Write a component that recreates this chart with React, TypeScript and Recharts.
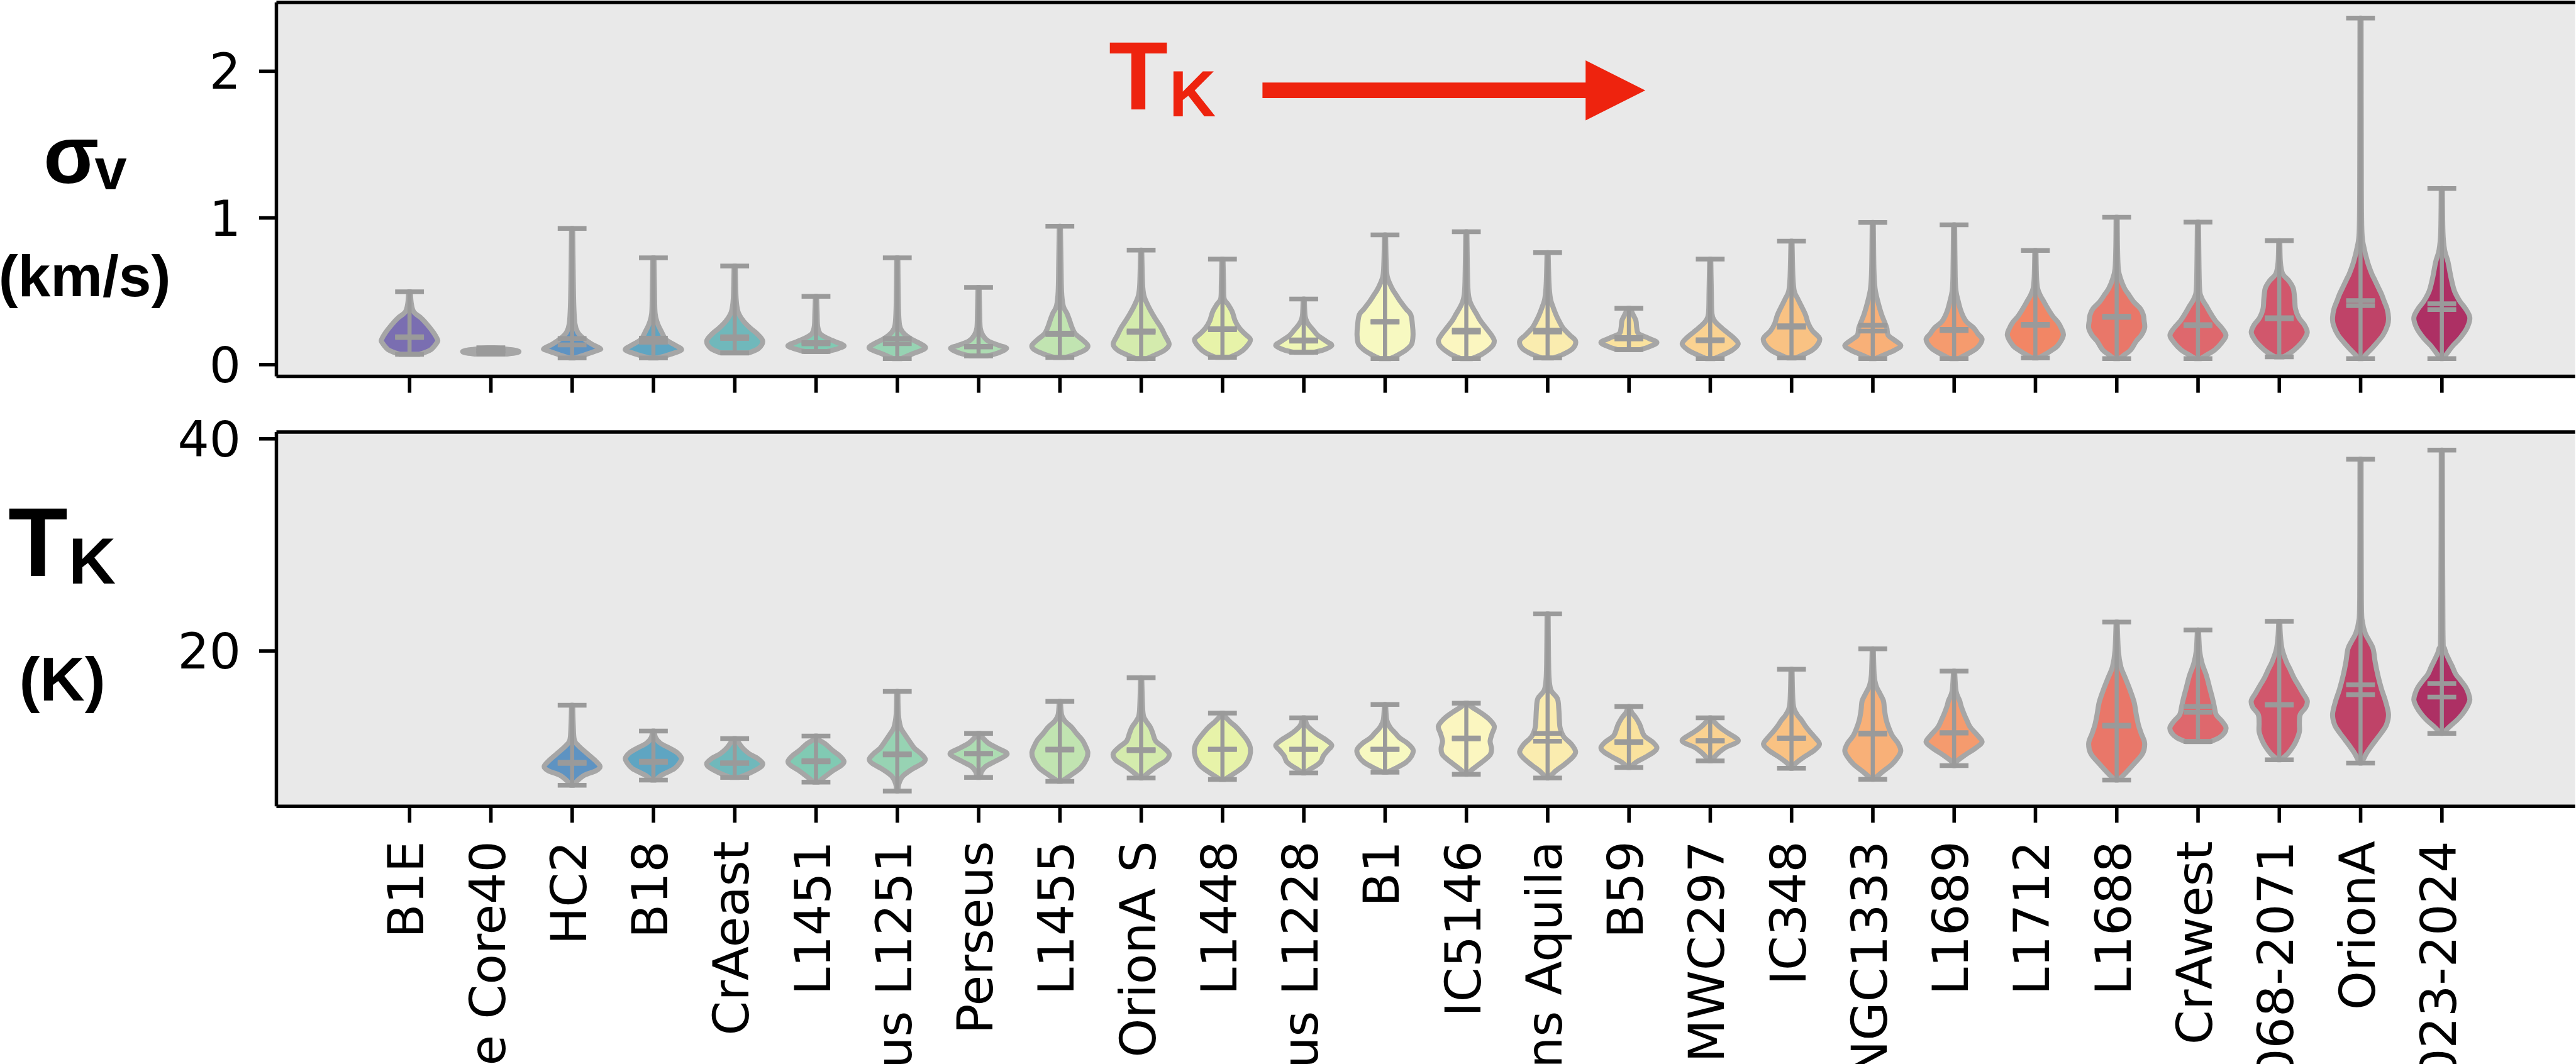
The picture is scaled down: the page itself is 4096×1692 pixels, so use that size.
import React from "react";
import { ComposedChart, Bar, XAxis, YAxis, CartesianGrid, ReferenceLine } from "recharts";

const REGIONS = [
  "B1E", "Pipe Core40", "HC2", "B18", "CrAeast", "L1451", "Cepheus L1251", "Perseus", "L1455",
  "OrionA S", "L1448", "Cepheus L1228", "B1", "IC5146", "Serpens Aquila", "B59", "Serpens MWC297",
  "IC348", "NGC1333", "L1689", "L1712", "L1688", "CrAwest", "OrionB NGC2068-2071", "OrionA",
  "OrionB NGC2023-2024",
];

// velocity dispersion (km/s) per region
const SIGMA_MIN = [0.07, 0.072, 0.045, 0.045, 0.08, 0.089, 0.041, 0.059, 0.048, 0.041, 0.05, 0.084, 0.041, 0.041, 0.045, 0.102, 0.041, 0.045, 0.041, 0.041, 0.045, 0.041, 0.041, 0.053, 0.041, 0.041];
const SIGMA_MAX = [0.497, 0.115, 0.928, 0.728, 0.672, 0.465, 0.728, 0.527, 0.944, 0.781, 0.719, 0.447, 0.885, 0.906, 0.763, 0.384, 0.72, 0.842, 0.969, 0.953, 0.778, 1.005, 0.971, 0.845, 2.363, 1.201];
const SIGMA_MEAN = [0.19, 0.095, 0.178, 0.18, 0.19, 0.15, 0.178, 0.125, 0.215, 0.23, 0.245, 0.168, 0.295, 0.235, 0.235, 0.185, 0.17, 0.265, 0.268, 0.24, 0.275, 0.33, 0.272, 0.32, 0.436, 0.415];
const SIGMA_MEDIAN = [0.185, 0.092, 0.134, 0.152, 0.178, 0.142, 0.143, 0.12, 0.205, 0.22, 0.238, 0.16, 0.29, 0.222, 0.222, 0.175, 0.162, 0.255, 0.229, 0.232, 0.268, 0.322, 0.265, 0.312, 0.402, 0.375];
// violin outlines: [value, relative half-width]
const SIGMA_SHAPE: number[][][] = [
  [[0.07, 0.35], [0.1, 0.75], [0.15, 0.98], [0.17, 1], [0.22, 0.85], [0.28, 0.6], [0.32, 0.4], [0.36, 0.15], [0.42, 0.06], [0.497, 0.03]],
  [[0.072, 0.55], [0.08, 0.9], [0.09, 1], [0.1, 0.8], [0.108, 0.45], [0.115, 0.12]],
  [[0.045, 0.1], [0.07, 0.5], [0.1, 0.95], [0.11, 1], [0.14, 0.7], [0.18, 0.4], [0.22, 0.2], [0.28, 0.1], [0.4, 0.06], [0.6, 0.04], [0.928, 0.02]],
  [[0.045, 0.15], [0.07, 0.6], [0.1, 1], [0.13, 0.8], [0.17, 0.45], [0.22, 0.3], [0.28, 0.15], [0.35, 0.06], [0.5, 0.04], [0.728, 0.02]],
  [[0.08, 0.5], [0.11, 0.85], [0.16, 1], [0.21, 0.8], [0.25, 0.55], [0.3, 0.3], [0.36, 0.12], [0.45, 0.05], [0.672, 0.02]],
  [[0.089, 0.4], [0.11, 0.8], [0.13, 1], [0.155, 0.7], [0.18, 0.4], [0.21, 0.15], [0.26, 0.06], [0.35, 0.04], [0.465, 0.02]],
  [[0.041, 0.15], [0.07, 0.5], [0.1, 0.9], [0.12, 1], [0.15, 0.75], [0.18, 0.45], [0.22, 0.2], [0.27, 0.08], [0.4, 0.04], [0.728, 0.02]],
  [[0.059, 0.3], [0.08, 0.7], [0.11, 1], [0.13, 0.75], [0.16, 0.35], [0.2, 0.15], [0.25, 0.06], [0.35, 0.04], [0.527, 0.02]],
  [[0.048, 0.2], [0.07, 0.55], [0.1, 0.9], [0.13, 1], [0.17, 0.8], [0.21, 0.55], [0.26, 0.42], [0.3, 0.35], [0.35, 0.25], [0.4, 0.12], [0.5, 0.06], [0.7, 0.04], [0.944, 0.02]],
  [[0.041, 0.2], [0.07, 0.55], [0.1, 0.85], [0.14, 1], [0.2, 0.85], [0.25, 0.72], [0.3, 0.55], [0.34, 0.42], [0.4, 0.25], [0.47, 0.1], [0.55, 0.05], [0.781, 0.02]],
  [[0.05, 0.25], [0.08, 0.6], [0.12, 0.85], [0.17, 1], [0.21, 0.8], [0.25, 0.6], [0.3, 0.45], [0.36, 0.35], [0.41, 0.2], [0.45, 0.06], [0.55, 0.04], [0.719, 0.02]],
  [[0.084, 0.35], [0.1, 0.7], [0.13, 1], [0.16, 0.8], [0.2, 0.5], [0.24, 0.32], [0.28, 0.15], [0.33, 0.05], [0.447, 0.02]],
  [[0.041, 0.2], [0.07, 0.5], [0.1, 0.75], [0.14, 0.95], [0.2, 1], [0.27, 0.98], [0.34, 0.92], [0.38, 0.75], [0.43, 0.55], [0.48, 0.38], [0.52, 0.25], [0.6, 0.08], [0.7, 0.04], [0.885, 0.02]],
  [[0.041, 0.2], [0.07, 0.55], [0.12, 0.9], [0.16, 1], [0.2, 0.9], [0.25, 0.7], [0.3, 0.5], [0.34, 0.38], [0.4, 0.2], [0.45, 0.1], [0.55, 0.05], [0.906, 0.02]],
  [[0.045, 0.2], [0.07, 0.55], [0.11, 0.9], [0.16, 1], [0.2, 0.8], [0.25, 0.55], [0.3, 0.4], [0.34, 0.3], [0.4, 0.18], [0.45, 0.1], [0.55, 0.05], [0.763, 0.02]],
  [[0.102, 0.4], [0.12, 0.7], [0.15, 1], [0.18, 0.7], [0.21, 0.35], [0.25, 0.28], [0.3, 0.25], [0.34, 0.15], [0.384, 0.04]],
  [[0.041, 0.15], [0.07, 0.5], [0.1, 0.8], [0.14, 1], [0.18, 0.85], [0.22, 0.6], [0.26, 0.35], [0.3, 0.15], [0.35, 0.06], [0.5, 0.04], [0.72, 0.02]],
  [[0.045, 0.15], [0.07, 0.45], [0.1, 0.75], [0.14, 0.95], [0.18, 1], [0.23, 0.75], [0.28, 0.6], [0.34, 0.5], [0.4, 0.35], [0.45, 0.22], [0.5, 0.1], [0.6, 0.05], [0.842, 0.02]],
  [[0.041, 0.1], [0.07, 0.45], [0.1, 0.8], [0.13, 1], [0.17, 0.75], [0.2, 0.55], [0.25, 0.5], [0.3, 0.4], [0.35, 0.3], [0.43, 0.18], [0.52, 0.08], [0.65, 0.04], [0.969, 0.02]],
  [[0.041, 0.15], [0.07, 0.45], [0.11, 0.8], [0.17, 1], [0.21, 0.85], [0.25, 0.7], [0.29, 0.45], [0.33, 0.32], [0.38, 0.22], [0.43, 0.15], [0.5, 0.07], [0.6, 0.04], [0.953, 0.02]],
  [[0.045, 0.1], [0.07, 0.35], [0.1, 0.6], [0.13, 0.8], [0.2, 1], [0.25, 0.92], [0.29, 0.8], [0.33, 0.62], [0.38, 0.45], [0.43, 0.3], [0.47, 0.18], [0.52, 0.08], [0.6, 0.04], [0.778, 0.02]],
  [[0.041, 0.1], [0.07, 0.3], [0.1, 0.5], [0.16, 0.7], [0.2, 0.88], [0.25, 1], [0.3, 0.98], [0.34, 0.95], [0.38, 0.85], [0.43, 0.6], [0.48, 0.42], [0.52, 0.28], [0.58, 0.15], [0.65, 0.06], [0.8, 0.03], [1.005, 0.02]],
  [[0.041, 0.1], [0.07, 0.35], [0.1, 0.6], [0.15, 0.85], [0.2, 1], [0.25, 0.85], [0.3, 0.62], [0.35, 0.45], [0.4, 0.3], [0.46, 0.12], [0.55, 0.05], [0.971, 0.02]],
  [[0.053, 0.15], [0.08, 0.4], [0.12, 0.65], [0.17, 0.88], [0.22, 1], [0.27, 0.9], [0.32, 0.7], [0.38, 0.58], [0.45, 0.55], [0.52, 0.5], [0.57, 0.35], [0.62, 0.12], [0.7, 0.04], [0.845, 0.02]],
  [[0.041, 0.08], [0.07, 0.2], [0.12, 0.45], [0.2, 0.8], [0.27, 0.97], [0.32, 1], [0.38, 0.95], [0.43, 0.85], [0.48, 0.75], [0.52, 0.65], [0.58, 0.5], [0.62, 0.4], [0.7, 0.25], [0.8, 0.12], [0.9, 0.05], [1.2, 0.03], [2.363, 0.02]],
  [[0.041, 0.05], [0.08, 0.2], [0.13, 0.4], [0.18, 0.65], [0.25, 0.9], [0.32, 1], [0.38, 0.85], [0.43, 0.65], [0.48, 0.5], [0.52, 0.42], [0.6, 0.32], [0.7, 0.22], [0.78, 0.1], [0.9, 0.04], [1.201, 0.02]],
];

// kinetic temperature (K) per region; null where no map exists
const TK_MIN = [null, null, 7.33, 7.83, 8.07, 7.63, 6.79, 8.07, 7.7, 8.02, 7.88, 8.49, 8.57, 8.37, 8.02, 9.01, 9.63, 8.94, 7.9, 9.19, null, 7.83, 11.46, 9.73, 9.43, 12.23];
const TK_MAX = [null, null, 14.88, 12.45, 11.73, 11.98, 16.19, 12.23, 15.25, 17.48, 14.14, 13.69, 14.95, 15.07, 23.49, 14.76, 13.69, 18.27, 20.2, 18.09, null, 22.72, 21.98, 22.8, 38.07, 38.93];
const TK_MEAN = [null, null, 9.5, 9.6, 9.45, 9.65, 10.3, 10.35, 10.75, 10.7, 10.75, 10.75, 10.75, 11.8, 12.23, 11.45, 11.55, 11.8, 12.25, 12.3, null, 13.0, 14.76, 14.95, 16.81, 16.93];
const TK_MEDIAN = [null, null, 9.4, 9.5, 9.4, 9.55, 10.2, 10.3, 10.65, 10.6, 10.7, 10.7, 10.7, 11.7, 11.49, 11.35, 11.5, 11.75, 12.15, 12.25, null, 12.9, 14.21, 14.9, 15.87, 15.65];
const TK_SHAPE: (number[][] | null)[] = [
  null,
  null,
  [[7.33, 0.05], [7.8, 0.2], [8.3, 0.45], [8.7, 0.85], [9.1, 1], [9.6, 0.85], [10.3, 0.55], [11, 0.25], [11.6, 0.08], [13, 0.04], [14.88, 0.02]],
  [[7.83, 0.08], [8.3, 0.3], [8.9, 0.75], [9.5, 0.95], [9.9, 1], [10.4, 0.85], [10.8, 0.6], [11.3, 0.25], [11.8, 0.08], [12.45, 0.03]],
  [[8.07, 0.15], [8.5, 0.55], [9, 0.9], [9.4, 1], [9.9, 0.8], [10.3, 0.52], [10.8, 0.3], [11.2, 0.18], [11.73, 0.05]],
  [[7.63, 0.08], [8.2, 0.35], [8.7, 0.6], [9.2, 0.9], [9.6, 1], [10.1, 0.85], [10.6, 0.6], [11.2, 0.35], [11.6, 0.12], [11.98, 0.04]],
  [[6.79, 0.02], [7.5, 0.06], [8.2, 0.2], [8.8, 0.5], [9.4, 0.9], [9.8, 1], [10.3, 0.85], [10.8, 0.62], [11.5, 0.43], [12.2, 0.25], [12.8, 0.12], [14, 0.04], [16.19, 0.02]],
  [[8.07, 0.06], [8.6, 0.1], [9.1, 0.25], [9.6, 0.6], [10.1, 0.95], [10.4, 1], [10.8, 0.7], [11.3, 0.35], [11.8, 0.15], [12.23, 0.05]],
  [[7.7, 0.06], [8.3, 0.4], [9, 0.75], [9.8, 0.95], [10.4, 1], [11, 0.92], [11.6, 0.8], [12.2, 0.6], [12.8, 0.42], [13.4, 0.18], [14, 0.06], [15.25, 0.02]],
  [[8.02, 0.05], [8.5, 0.25], [9.1, 0.55], [9.7, 0.9], [10.3, 1], [10.9, 0.8], [11.5, 0.52], [12.2, 0.42], [12.8, 0.33], [13.5, 0.15], [14.3, 0.06], [17.48, 0.02]],
  [[7.88, 0.08], [8.5, 0.45], [9.2, 0.8], [10, 0.97], [10.8, 1], [11.5, 0.9], [12.2, 0.7], [12.8, 0.5], [13.3, 0.28], [13.8, 0.1], [14.14, 0.04]],
  [[8.49, 0.05], [8.8, 0.2], [9.2, 0.45], [9.6, 0.62], [10.1, 0.7], [10.6, 0.85], [11.1, 1], [11.6, 0.8], [12.1, 0.5], [12.5, 0.3], [13, 0.12], [13.69, 0.04]],
  [[8.57, 0.08], [8.9, 0.35], [9.5, 0.75], [10.1, 0.95], [10.7, 1], [11.3, 0.8], [11.8, 0.52], [12.3, 0.35], [12.8, 0.18], [13.5, 0.06], [14.95, 0.02]],
  [[8.37, 0.05], [8.8, 0.2], [9.5, 0.55], [10.2, 0.85], [10.8, 0.9], [11.5, 0.85], [12.2, 0.92], [12.9, 1], [13.6, 0.8], [14.2, 0.5], [14.7, 0.2], [15.07, 0.05]],
  [[8.02, 0.05], [8.6, 0.25], [9.3, 0.6], [10, 0.9], [10.5, 1], [11.2, 0.85], [11.9, 0.58], [12.7, 0.45], [13.5, 0.42], [14.5, 0.4], [15.5, 0.35], [16.3, 0.12], [17.5, 0.05], [20, 0.03], [23.49, 0.02]],
  [[9.01, 0.05], [9.5, 0.25], [10, 0.6], [10.5, 0.9], [10.9, 1], [11.4, 0.85], [12, 0.55], [12.6, 0.45], [13.1, 0.38], [13.7, 0.25], [14.2, 0.1], [14.76, 0.03]],
  [[9.63, 0.05], [10, 0.15], [10.4, 0.3], [10.9, 0.55], [11.3, 0.9], [11.6, 1], [12, 0.8], [12.4, 0.55], [12.9, 0.3], [13.3, 0.15], [13.69, 0.04]],
  [[8.94, 0.04], [9.4, 0.15], [10, 0.45], [10.6, 0.8], [11.2, 1], [11.8, 0.85], [12.4, 0.65], [12.9, 0.5], [13.5, 0.35], [14, 0.2], [15, 0.06], [18.27, 0.02]],
  [[7.9, 0.04], [8.5, 0.3], [9.3, 0.68], [10, 0.9], [10.6, 1], [11.3, 0.9], [12, 0.7], [12.7, 0.58], [13.5, 0.48], [14.4, 0.42], [15.3, 0.38], [16, 0.25], [16.7, 0.12], [17.7, 0.05], [20.2, 0.02]],
  [[9.19, 0.04], [9.6, 0.1], [10.2, 0.4], [10.8, 0.75], [11.4, 1], [12, 0.85], [12.8, 0.58], [13.5, 0.45], [14.1, 0.35], [14.8, 0.25], [15.3, 0.2], [16.2, 0.07], [18.09, 0.02]],
  null,
  [[7.83, 0.05], [8.3, 0.25], [9.3, 0.6], [10.3, 0.92], [11.3, 1], [12.2, 0.88], [13, 0.78], [14, 0.7], [15.2, 0.62], [16.5, 0.45], [17.5, 0.3], [18.5, 0.15], [20, 0.06], [22.72, 0.02]],
  [[11.46, 0.45], [11.8, 0.75], [12.3, 0.95], [12.8, 1], [13.4, 0.85], [14, 0.65], [14.8, 0.58], [15.5, 0.52], [16.5, 0.42], [17.7, 0.3], [18.8, 0.15], [20, 0.06], [21.98, 0.02]],
  [[9.73, 0.05], [10.3, 0.3], [11, 0.5], [11.6, 0.62], [12.4, 0.72], [13.2, 0.72], [14, 0.75], [14.7, 0.95], [15.3, 1], [16, 0.85], [16.6, 0.72], [17.5, 0.52], [18.3, 0.38], [19, 0.25], [20.2, 0.1], [21.5, 0.04], [22.8, 0.02]],
  [[9.43, 0.04], [10.3, 0.2], [11, 0.38], [11.6, 0.55], [12.3, 0.75], [13, 0.92], [14, 1], [15.2, 0.9], [16.4, 0.75], [17.7, 0.62], [19, 0.52], [20.2, 0.45], [21, 0.3], [21.6, 0.18], [22.7, 0.07], [25, 0.03], [38.07, 0.02]],
  [[12.23, 0.04], [12.8, 0.25], [13.5, 0.55], [14.1, 0.75], [14.8, 0.92], [15.4, 1], [16, 0.95], [16.6, 0.85], [17.2, 0.68], [17.8, 0.5], [18.5, 0.38], [19.2, 0.25], [20.2, 0.1], [22, 0.04], [38.93, 0.02]],
];

const SIGMA_TICKS = [0, 1, 2];
const TK_TICKS = [20, 40];
const SIGMA_DOMAIN: [number, number] = [-0.0806, 2.47];
const TK_DOMAIN: [number, number] = [5.345, 40.64];

// layout
const CHART_W = 4200;
const PLOT_LEFT = 439.5;
const PLOT_RIGHT = 4094.6;
const X_DOMAIN: [number, number] = [-1.6386, 26.6386];
const POSITIONS = REGIONS.map((_, i) => i);
const AXES_BG = "#e9e9e9";
const EDGE = "#a6a6a6";
const LINE = "#9a9a9a";
const RED = "#ee230e";
const SPINE = { stroke: "#000", strokeWidth: 5.5 };
const TICK_LINE = { stroke: "#000", strokeWidth: 5.6 };
const TICK_TEXT = { fill: "#000", fontSize: 79, fontFamily: "DejaVu Sans" };

// Spectral_r colour map, one colour per region
const SPECTRAL = ["#9e0142", "#d53e4f", "#f46d43", "#fdae61", "#fee08b", "#ffffbf", "#e6f598", "#abdda4", "#66c2a5", "#3288bd", "#5e4fa2"];
function hexToRgb(h: string) {
  return [1, 3, 5].map((k) => parseInt(h.slice(k, k + 2), 16));
}
function spectralR(t: number) {
  const u = (1 - t) * (SPECTRAL.length - 1);
  const k = Math.min(SPECTRAL.length - 2, Math.floor(u));
  const f = u - k;
  const a = hexToRgb(SPECTRAL[k]);
  const b = hexToRgb(SPECTRAL[k + 1]);
  return `rgb(${a.map((v, j) => Math.round(v + (b[j] - v) * f)).join(",")})`;
}
const COLORS = REGIONS.map((_, i) => spectralR(i / (REGIONS.length - 1)));

function buildRows(min: any[], max: any[], mean: any[], median: any[], shape: any[]) {
  return REGIONS.map((name, i) => ({
    pos: i,
    name,
    range: [min[i], max[i]],
    mean: mean[i],
    median: median[i],
    shape: shape[i],
    color: COLORS[i],
  })).filter((r) => r.shape);
}

const sigmaRows = buildRows(SIGMA_MIN, SIGMA_MAX, SIGMA_MEAN, SIGMA_MEDIAN, SIGMA_SHAPE);
const tkRows = buildRows(TK_MIN, TK_MAX, TK_MEAN, TK_MEDIAN, TK_SHAPE);

// Catmull-Rom through the outline points
function smooth(pts: number[][]) {
  let d = "";
  for (let i = 0; i < pts.length - 1; i++) {
    const p0 = pts[i - 1] || pts[i];
    const p1 = pts[i];
    const p2 = pts[i + 1];
    const p3 = pts[i + 2] || p2;
    const c1x = p1[0] + (p2[0] - p0[0]) / 6;
    const c1y = p1[1] + (p2[1] - p0[1]) / 6;
    const c2x = p2[0] - (p3[0] - p1[0]) / 6;
    const c2y = p2[1] - (p3[1] - p1[1]) / 6;
    d += ` C${c1x},${c1y} ${c2x},${c2y} ${p2[0]},${p2[1]}`;
  }
  return d;
}

function renderViolin(props: any) {
  const { x, y, width, height, payload } = props;
  if (!payload || !payload.shape) return <g />;
  const [lo, hi] = payload.range;
  const yTop = Math.min(y, y + height);
  const yBot = Math.max(y, y + height);
  const py = (v: number) => yBot - ((v - lo) / (hi - lo)) * (yBot - yTop);
  const cx = x + width / 2;
  const half = width / 2;
  const right = payload.shape.map(([v, w]: number[]) => [cx + w * half, py(v)]);
  const left = payload.shape.slice().reverse().map(([v, w]: number[]) => [cx - w * half, py(v)]);
  const d = `M${right[0][0]},${right[0][1]}${smooth(right)} L${left[0][0]},${left[0][1]}${smooth(left)} Z`;
  const capHalf = 22.9;
  const cap = (v: number, key: string) => (
    <line key={key} x1={cx - capHalf} x2={cx + capHalf} y1={py(v)} y2={py(v)} stroke={LINE} strokeWidth={7.5} />
  );
  return (
    <g>
      <path d={d} fill={payload.color} fillOpacity={0.8} stroke={EDGE} strokeWidth={8} strokeLinejoin="round" />
      <line x1={cx} x2={cx} y1={py(lo)} y2={py(hi)} stroke={LINE} strokeWidth={6.5} />
      {cap(lo, "min")}
      {cap(hi, "max")}
      {cap(payload.mean, "mean")}
      {cap(payload.median, "median")}
    </g>
  );
}

function RegionTick({ x, y, payload }: any) {
  return (
    <text
      transform={`translate(${x + 22},${y}) rotate(-90)`}
      textAnchor="end"
      fontSize={79}
      fontFamily="DejaVu Sans"
      fill="#000"
    >
      {REGIONS[payload.value]}
    </text>
  );
}

export default function App() {
  return (
    <div style={{ position: "absolute", left: 0, top: 0, width: 4096, height: 1692, overflow: "hidden", background: "#fff" }}>
      <div style={{ position: "absolute", left: 0, top: 0 }}>
        <ComposedChart width={CHART_W} height={700} data={sigmaRows} margin={{ top: 3.74, right: CHART_W - PLOT_RIGHT, bottom: 0, left: 0 }}>
          <CartesianGrid fill={AXES_BG} horizontal={false} vertical={false} stroke="none" />
          <XAxis type="number" dataKey="pos" domain={X_DOMAIN} ticks={POSITIONS} interval={0} height={101.4} allowDataOverflow
            axisLine={SPINE} tickLine={TICK_LINE} tickSize={26} tick={() => <g />} />
          <YAxis type="number" domain={SIGMA_DOMAIN} ticks={SIGMA_TICKS} interval={0} width={PLOT_LEFT} allowDataOverflow
            axisLine={SPINE} tickLine={TICK_LINE} tickSize={27.5} tickMargin={29} tick={TICK_TEXT} />
          <ReferenceLine y={SIGMA_DOMAIN[1]} stroke="#000" strokeWidth={5.5} ifOverflow="visible" />
          <Bar dataKey="range" barSize={89} shape={renderViolin} isAnimationActive={false} />
        </ComposedChart>
      </div>
      <div style={{ position: "absolute", left: 0, top: 640 }}>
        <ComposedChart width={CHART_W} height={1160} data={tkRows} margin={{ top: 47.0, right: CHART_W - PLOT_RIGHT, bottom: 0, left: 0 }}>
          <CartesianGrid fill={AXES_BG} horizontal={false} vertical={false} stroke="none" />
          <XAxis type="number" dataKey="pos" domain={X_DOMAIN} ticks={POSITIONS} interval={0} height={517.7} allowDataOverflow
            axisLine={SPINE} tickLine={TICK_LINE} tickSize={26} tickMargin={29} tick={<RegionTick />} />
          <YAxis type="number" domain={TK_DOMAIN} ticks={TK_TICKS} interval={0} width={PLOT_LEFT} allowDataOverflow
            axisLine={SPINE} tickLine={TICK_LINE} tickSize={27.5} tickMargin={29} tick={TICK_TEXT} />
          <ReferenceLine y={TK_DOMAIN[1]} stroke="#000" strokeWidth={5.5} ifOverflow="visible" />
          <Bar dataKey="range" barSize={89} shape={renderViolin} isAnimationActive={false} />
        </ComposedChart>
      </div>
      <svg width={4096} height={1692} style={{ position: "absolute", left: 0, top: 0 }}>
        <g fontFamily="Liberation Sans" fontWeight="bold" fill="#000">
          <text x={69} y={291} fontSize={129}>σ</text>
          <text x={150.5} y={301} fontSize={92}>v</text>
          <text x={134.6} y={471} fontSize={93} textAnchor="middle">(km/s)</text>
          <text x={13} y={916.3} fontSize={155}>T</text>
          <text x={109} y={927.5} fontSize={104}>K</text>
          <text x={99.1} y={1114} fontSize={99} textAnchor="middle">(K)</text>
        </g>
        <g fontFamily="Liberation Sans" fontWeight="bold" fill={RED}>
          <text x={1763} y={173.9} fontSize={154}>T</text>
          <text x={1859} y={185.1} fontSize={103}>K</text>
        </g>
        <polygon
          points="2007.4,131.2 2521.2,131.2 2521.2,96 2616.1,143.7 2521.2,191.4 2521.2,156.1 2007.4,156.1"
          fill={RED}
        />
      </svg>
    </div>
  );
}
